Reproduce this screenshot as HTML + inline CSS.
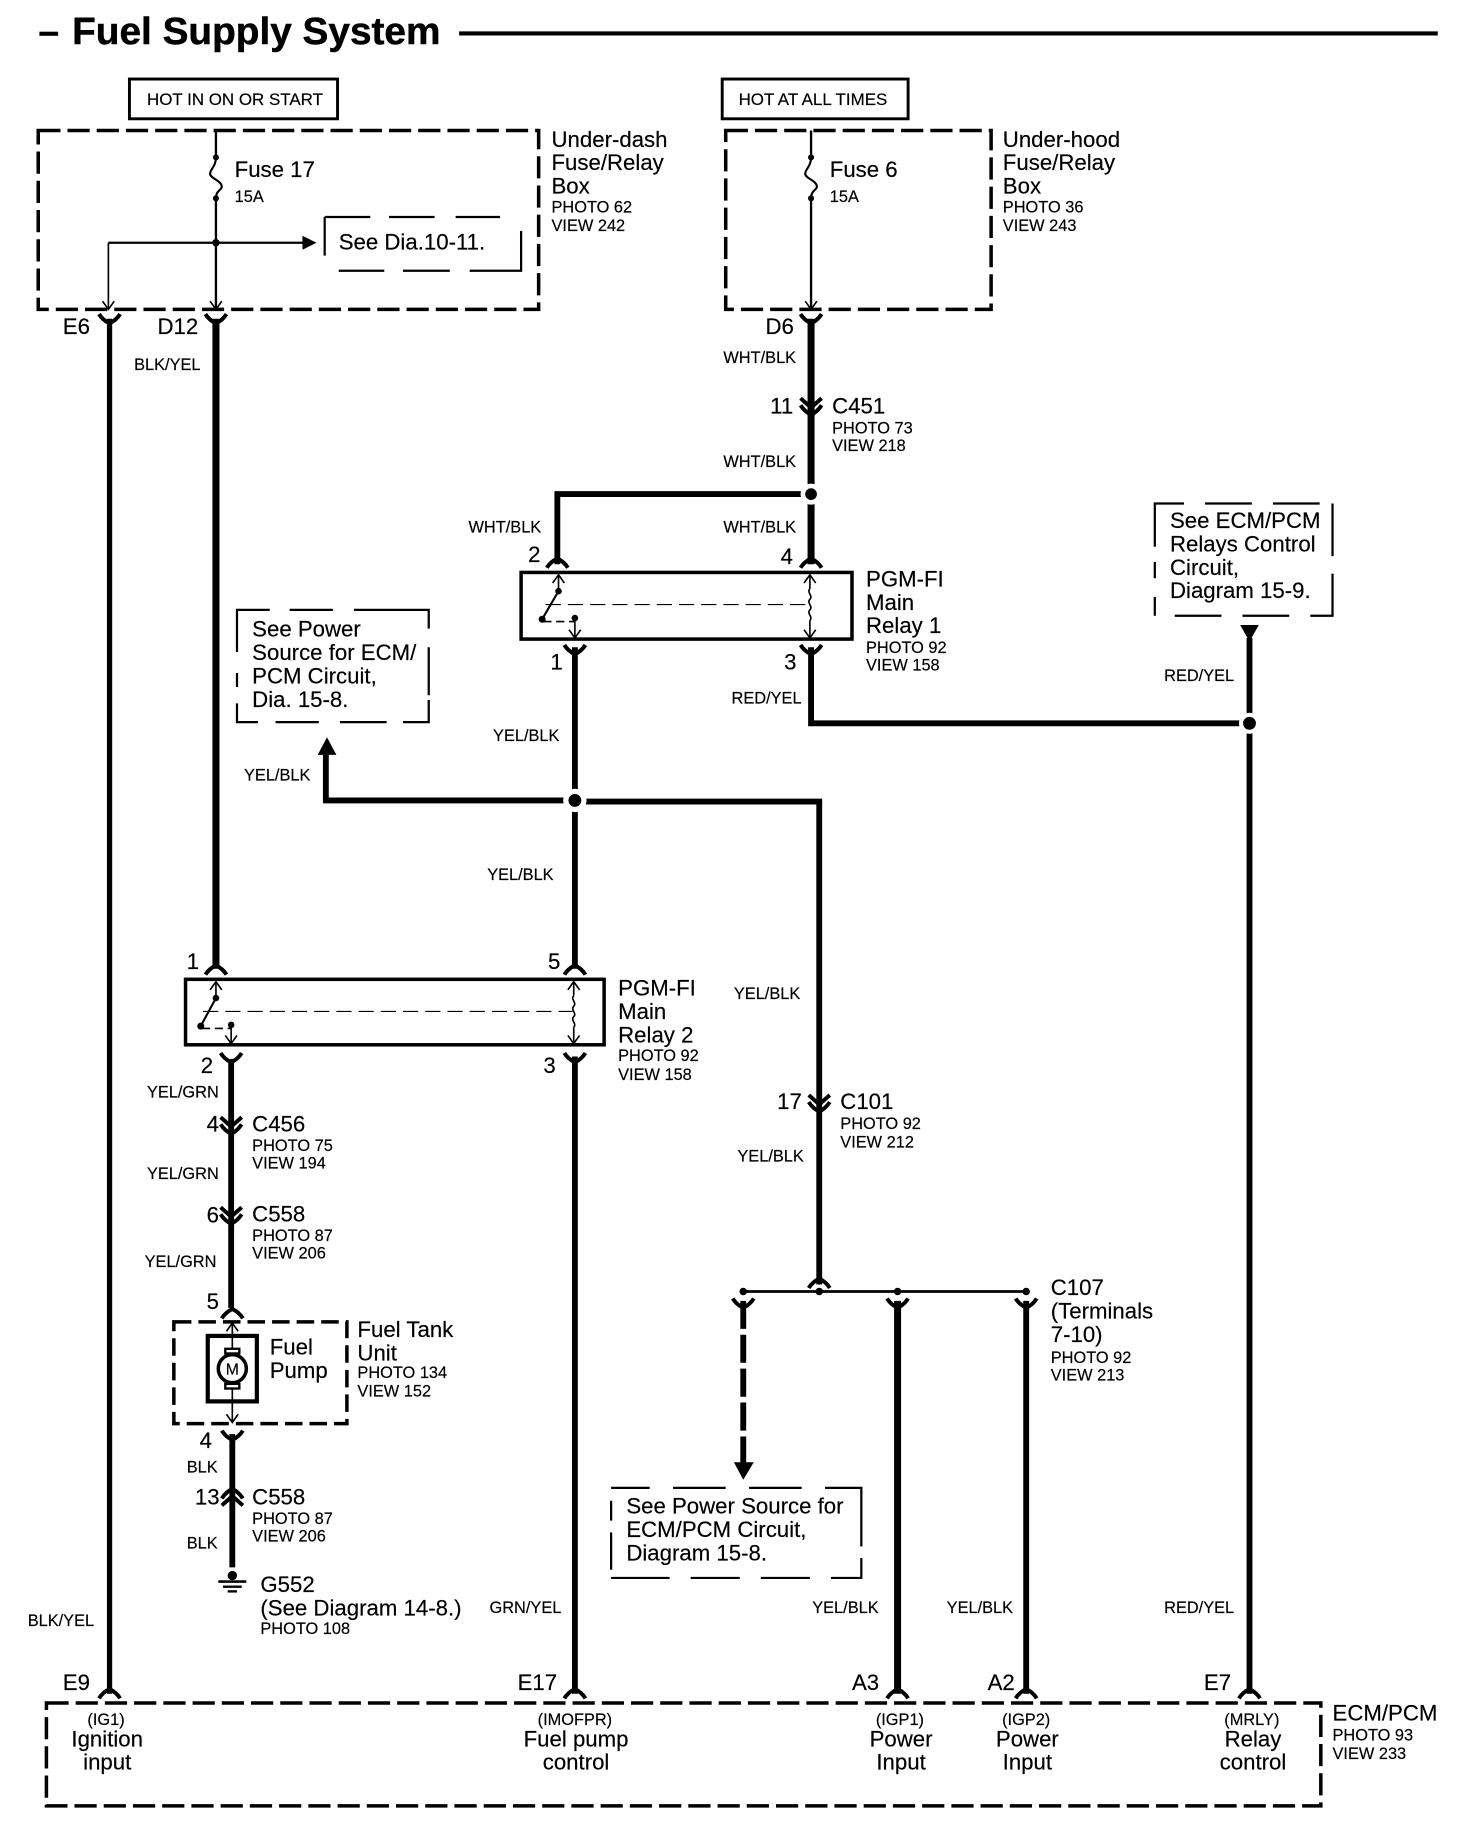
<!DOCTYPE html>
<html><head><meta charset="utf-8"><title>Fuel Supply System</title>
<style>
html,body{margin:0;padding:0;background:#fff}
svg{display:block}
text{font-family:"Liberation Sans",Arial,sans-serif;fill:#000;stroke:#000;stroke-width:.15}
.l{font-size:19px}
.s{font-size:14px}
.c{text-anchor:middle}
</style></head><body>
<svg xmlns="http://www.w3.org/2000/svg" width="1472" height="1834" viewBox="0 0 1259 1568.6">
<defs>
<path id="up" d="M-9 8Q-6 3 0 0Q6 3 9 8" fill="none" stroke="#000" stroke-width="3.4"/>
<path id="dn" d="M-9 0Q-6 5 0 8Q6 5 9 0" fill="none" stroke="#000" stroke-width="3.4"/>
<g id="cd"><path d="M-9 -7L0 1L9 -7" fill="none" stroke="#000" stroke-width="3.4"/><path d="M-9 -1Q-5 5 0 7Q5 5 9 -1" fill="none" stroke="#000" stroke-width="3.4"/></g>
<g id="cu"><path d="M-9 7L0 -1L9 7" fill="none" stroke="#000" stroke-width="3.4"/><path d="M-9 1Q-5 -5 0 -7Q5 -5 9 1" fill="none" stroke="#000" stroke-width="3.4"/></g>
<path id="oad" d="M-5 -7L0 0L5 -7" fill="none" stroke="#000" stroke-width="1.4"/>
<path id="oau" d="M-5 7L0 0L5 7" fill="none" stroke="#000" stroke-width="1.4"/>
<g id="fuse"><circle cx="0" cy="0" r="2.6"/><circle cx="0" cy="35" r="2.6"/><path d="M0 0C0 8 -5 10 -5 14C-5 18 5 20 5 25C5 28 0 28 0 35" fill="none" stroke="#000" stroke-width="1.8"/></g>
<path id="coil" d="M0 0C-3 3 3 6 0 9C-3 12 3 15 0 18C-3 21 3 24 0 27" fill="none" stroke="#000" stroke-width="1.4"/>
</defs>
<g transform="translate(.7 .6)">
<!-- title -->
<rect x="33" y="26.5" width="16" height="3.5"/>
<text x="61" y="37" font-weight="bold" font-size="32.5" textLength="315" lengthAdjust="spacingAndGlyphs" style="stroke-width:.4">Fuel Supply System</text>
<line x1="392" y1="28" x2="1229" y2="28" stroke="#000" stroke-width="3.6"/>

<!-- HOT boxes -->
<g fill="none" stroke="#000" stroke-width="2.5">
<rect x="110" y="67" width="178" height="34"/>
<rect x="617" y="67" width="159" height="34"/>
</g>
<text x="125" y="89" font-size="14.5">HOT IN ON OR START</text>
<text x="631" y="89" font-size="14.5">HOT AT ALL TIMES</text>

<!-- heavy dashed boxes -->
<g fill="none" stroke="#000" stroke-width="3" stroke-dasharray="19 6">
<rect x="32" y="111" width="428" height="153"/>
<rect x="620" y="111" width="227" height="153"/>
<rect x="148" y="1130" width="148" height="87" stroke-dasharray="15 6"/>
<rect x="39" y="1456" width="1090" height="88"/>
</g>

<!-- under-dash contents -->
<g fill="none" stroke="#000" stroke-width="2">
<path d="M184 111V134M184 169V264"/>
<path d="M184 207H260"/>
<path d="M92 207H184" />
<path d="M693 111V134M693 169V264"/>
</g>
<line x1="92" y1="207" x2="92" y2="264" stroke="#000" stroke-width="1.4"/>
<use href="#fuse" x="184" y="134"/><use href="#fuse" x="693" y="134"/>
<circle cx="184" cy="207" r="3.2"/>
<path d="M258 201L270 207L258 213Z"/>
<use href="#oad" x="92" y="264"/><use href="#oad" x="184" y="264"/><use href="#oad" x="693" y="264"/>

<!-- light dashed note boxes -->
<g fill="none" stroke="#000" stroke-width="1.9">
<path d="M277 218V185M277 185H316M332 185H371M389 185H427M289 231H328M344 231H384M401 231H445V197"/>
<path d="M202 557V521H230M247 521H284M302 521H345M345 521H366V537M366 553V594M366 598V617H344M330 617H290M272 617H235M220 617H202V601M202 587V575"/>
<path d="M987 467V430H1012M1030 430H1070M1088 430H1128M1139 430V475M1139 490V526H1120M1102 526H1062M1044 526H1004M987 526V510M987 494V480"/>
<path d="M522 1272H555M575 1272H620M640 1272H685M705 1272H736V1322M736 1332V1349H710M692 1349H650M632 1349H590M572 1349H522M522 1342V1310M522 1300V1283"/>
</g>
<text x="289" y="213" class="l">See Dia.10-11.</text>

<text class="l" x="200" y="151">Fuse 17</text><text class="s" x="200" y="172">15A</text>
<text class="l" x="709" y="151">Fuse 6</text><text class="s" x="709" y="172">15A</text>
<text class="l" x="471" y="125">Under-dash</text><text class="l" x="471" y="145">Fuse/Relay</text><text class="l" x="471" y="165">Box</text>
<text class="s" x="471" y="181">PHOTO 62</text><text class="s" x="471" y="197">VIEW 242</text>
<text class="l" x="857" y="125">Under-hood</text><text class="l" x="857" y="145">Fuse/Relay</text><text class="l" x="857" y="165">Box</text>
<text class="s" x="857" y="181">PHOTO 36</text><text class="s" x="857" y="197">VIEW 243</text>

<!-- main wires -->
<g fill="none" stroke="#000" stroke-width="5">
<path d="M93 272V1448" stroke-width="4.5"/>
<path d="M184 272V828" stroke-width="6"/>
<path d="M693 272V482" stroke-width="6"/>
<path d="M693 422H476V482"/>
<path d="M491 553V828"/>
<path d="M693 553V618H1068"/>
<path d="M1068 545V1448"/>
<path d="M491 684H278V645"/>
<path d="M491 685H700V1098"/>
<path d="M197 905V1118"/>
<path d="M491 903V1448"/>
<path d="M198 1226V1340"/>
<path d="M767 1112V1448" stroke-width="6"/>
<path d="M877 1112V1448"/>
<path d="M635 1112V1252" stroke-dasharray="24 5"/>
</g>
<circle cx="693" cy="422" r="9" fill="#fff"/><circle cx="491" cy="684" r="10" fill="#fff"/><circle cx="1068" cy="618" r="9" fill="#fff"/>
<circle cx="693" cy="422" r="5"/><circle cx="491" cy="684" r="5.5"/><circle cx="1068" cy="618" r="5.5"/>
<path d="M271 645L279 630L287 645Z"/>
<path d="M1060 534H1076L1068 548Z"/>
<path d="M627 1250H644L635 1265Z"/>

<!-- caps -->
<use href="#dn" x="93" y="268"/><use href="#dn" x="184" y="268"/><use href="#dn" x="693" y="268"/>
<use href="#up" x="476" y="477"/><use href="#up" x="693" y="477"/>
<use href="#dn" x="491" y="551"/><use href="#dn" x="693" y="551"/>
<use href="#up" x="184" y="825"/><use href="#up" x="491" y="825"/>
<use href="#dn" x="197" y="900"/><use href="#dn" x="491" y="900"/>
<use href="#up" x="198" y="1119"/><use href="#dn" x="198" y="1223"/>
<use href="#up" x="93" y="1444"/><use href="#up" x="491" y="1444"/><use href="#up" x="767" y="1444"/><use href="#up" x="877" y="1444"/><use href="#up" x="1068" y="1444"/>
<use href="#up" x="700" y="1093"/>
<use href="#dn" x="635" y="1110"/><use href="#dn" x="767" y="1110"/><use href="#dn" x="877" y="1110"/>
<use href="#cd" x="693" y="347"/><use href="#cd" x="700" y="943"/>
<use href="#cd" x="197" y="962"/><use href="#cd" x="197" y="1039"/><use href="#cu" x="198" y="1280"/>

<!-- C107 bar -->
<line x1="635" y1="1104" x2="877" y2="1104" stroke="#000" stroke-width="2.4"/>
<circle cx="635" cy="1104" r="3.2"/><circle cx="700" cy="1104" r="3.2"/><circle cx="767" cy="1104" r="3.2"/><circle cx="877" cy="1104" r="3.2"/>

<!-- relay 1 -->
<rect x="445" y="489" width="283" height="57" fill="#fff" stroke="#000" stroke-width="3"/>
<g fill="none" stroke="#000" stroke-width="1.4">
<path d="M477 491V505"/><path d="M477 505L463 529" stroke-width="1.8"/>
<path d="M464 531H491" stroke-dasharray="7 4"/><path d="M491 528V545"/>
<path d="M466 516.5H691" stroke-dasharray="13 6" stroke-width="1"/>
<path d="M692 491V503M692 530V545"/>
</g>
<use href="#oau" x="477" y="491"/><use href="#oad" x="491" y="545"/><use href="#oau" x="692" y="491"/><use href="#oad" x="692" y="545"/>
<use href="#coil" x="692" y="503"/>
<circle cx="477" cy="505" r="2.8"/><circle cx="463" cy="529" r="3"/><circle cx="491" cy="528" r="2.8"/>

<!-- relay 2 -->
<rect x="158" y="837" width="358" height="56" fill="#fff" stroke="#000" stroke-width="3"/>
<g fill="none" stroke="#000" stroke-width="1.4">
<path d="M184 839V853"/><path d="M184 853L171 877" stroke-width="1.8"/>
<path d="M172 879H197" stroke-dasharray="7 4"/><path d="M197 876V892"/>
<path d="M173 864.5H489" stroke-dasharray="13 6" stroke-width="1"/>
<path d="M490 839V851M490 878V892"/>
</g>
<use href="#oau" x="184" y="839"/><use href="#oad" x="197" y="892"/><use href="#oau" x="490" y="839"/><use href="#oad" x="490" y="892"/>
<use href="#coil" x="490" y="851"/>
<circle cx="184" cy="853" r="2.8"/><circle cx="171" cy="877" r="3"/><circle cx="197" cy="876" r="2.8"/>

<!-- fuel pump -->
<line x1="198" y1="1131" x2="198" y2="1216" stroke="#000" stroke-width="1.4"/>
<use href="#oau" x="198" y="1131"/><use href="#oad" x="198" y="1216"/>
<rect x="177" y="1142" width="42" height="56" fill="#fff" stroke="#000" stroke-width="3.6"/>
<circle cx="198" cy="1170" r="12" fill="#fff" stroke="#000" stroke-width="3"/>
<rect x="192" y="1153" width="12" height="4" fill="#fff" stroke="#000" stroke-width="2"/>
<rect x="192" y="1183" width="12" height="4" fill="#fff" stroke="#000" stroke-width="2"/>
<line x1="198" y1="1142" x2="198" y2="1153" stroke="#000" stroke-width="1.4"/>
<line x1="198" y1="1187" x2="198" y2="1198" stroke="#000" stroke-width="1.4"/>
<text x="198" y="1175" class="c" font-size="13.5">M</text>

<!-- ground -->
<circle cx="198" cy="1347" r="4"/>
<rect x="186" y="1351" width="24" height="2.2"/><rect x="190" y="1355.5" width="16" height="2"/><rect x="194" y="1359.5" width="8" height="2"/>

<!-- labels -->
<g class="l">
<text class="l" x="53" y="285">E6</text><text class="l" x="134" y="285">D12</text><text class="l" x="654" y="285">D6</text>
<text class="l" x="658" y="353">11</text><text class="l" x="711" y="353">C451</text>
<text class="l" x="451" y="480">2</text><text class="l" x="667" y="482">4</text><text class="l" x="470" y="572">1</text><text class="l" x="670" y="572">3</text>
<text class="l" x="740" y="501">PGM-FI</text><text class="l" x="740" y="521">Main</text><text class="l" x="740" y="541">Relay 1</text>
<text class="l" x="1000" y="451">See ECM/PCM</text><text class="l" x="1000" y="471">Relays Control</text><text class="l" x="1000" y="491">Circuit,</text><text class="l" x="1000" y="511">Diagram 15-9.</text>
<text class="l" x="215" y="544">See Power</text><text class="l" x="215" y="564">Source for ECM/</text><text class="l" x="215" y="584">PCM Circuit,</text><text class="l" x="215" y="604">Dia. 15-8.</text>
<text class="l" x="159" y="828">1</text><text class="l" x="468" y="828">5</text><text class="l" x="171" y="917">2</text><text class="l" x="464" y="917">3</text>
<text class="l" x="528" y="851">PGM-FI</text><text class="l" x="528" y="871">Main</text><text class="l" x="528" y="891">Relay 2</text>
<text class="l" x="664" y="948">17</text><text class="l" x="718" y="948">C101</text>
<text class="l" x="176" y="967">4</text><text class="l" x="215" y="967">C456</text>
<text class="l" x="176" y="1045">6</text><text class="l" x="215" y="1044">C558</text>
<text class="l" x="176" y="1119">5</text>
<text class="l" x="305" y="1143">Fuel Tank</text><text class="l" x="305" y="1163">Unit</text>
<text class="l" x="230" y="1158">Fuel</text><text class="l" x="230" y="1178">Pump</text>
<text class="l" x="170" y="1238">4</text><text class="l" x="166" y="1286">13</text><text class="l" x="215" y="1286">C558</text>
<text class="l" x="222" y="1361">G552</text><text class="l" x="222" y="1381">(See Diagram 14-8.)</text>
<text class="l" x="898" y="1107">C107</text><text class="l" x="898" y="1127">(Terminals</text><text class="l" x="898" y="1147">7-10)</text>
<text class="l" x="535" y="1294">See Power Source for</text><text class="l" x="535" y="1314">ECM/PCM Circuit,</text><text class="l" x="535" y="1334">Diagram 15-8.</text>
<text class="l" x="53" y="1445">E9</text><text class="l" x="442" y="1445">E17</text><text class="l" x="728" y="1445">A3</text><text class="l" x="844" y="1445">A2</text><text class="l" x="1029" y="1445">E7</text>
<text class="l" x="1139" y="1471">ECM/PCM</text>
<text class="l c" x="91" y="1493">Ignition</text><text class="l c" x="91" y="1513">input</text>
<text class="l c" x="492" y="1493">Fuel pump</text><text class="l c" x="492" y="1513">control</text>
<text class="l c" x="770" y="1493">Power</text><text class="l c" x="770" y="1513">Input</text>
<text class="l c" x="878" y="1493">Power</text><text class="l c" x="878" y="1513">Input</text>
<text class="l c" x="1071" y="1493">Relay</text><text class="l c" x="1071" y="1513">control</text>
</g>

<text class="s" x="711" y="370">PHOTO 73</text><text class="s" x="711" y="385">VIEW 218</text>
<text class="s" x="740" y="558">PHOTO 92</text><text class="s" x="740" y="573">VIEW 158</text>
<text class="s" x="528" y="907">PHOTO 92</text><text class="s" x="528" y="923">VIEW 158</text>
<text class="s" x="718" y="965">PHOTO 92</text><text class="s" x="718" y="981">VIEW 212</text>
<text class="s" x="215" y="984">PHOTO 75</text><text class="s" x="215" y="999">VIEW 194</text>
<text class="s" x="215" y="1061">PHOTO 87</text><text class="s" x="215" y="1076">VIEW 206</text>
<text class="s" x="305" y="1178">PHOTO 134</text><text class="s" x="305" y="1194">VIEW 152</text>
<text class="s" x="215" y="1303">PHOTO 87</text><text class="s" x="215" y="1318">VIEW 206</text>
<text class="s" x="222" y="1397">PHOTO 108</text>
<text class="s" x="898" y="1165">PHOTO 92</text><text class="s" x="898" y="1180">VIEW 213</text>
<text class="s" x="1139" y="1488">PHOTO 93</text><text class="s" x="1139" y="1504">VIEW 233</text>
<text class="s c" x="90" y="1475">(IG1)</text><text class="s c" x="491" y="1475">(IMOFPR)</text><text class="s c" x="769" y="1475">(IGP1)</text><text class="s c" x="877" y="1475">(IGP2)</text><text class="s c" x="1070" y="1475">(MRLY)</text>

<!-- wire colours -->
<text class="s" x="114" y="316">BLK/YEL</text><text class="s" x="23" y="1390">BLK/YEL</text>
<text class="s" x="618" y="310">WHT/BLK</text><text class="s" x="618" y="399">WHT/BLK</text><text class="s" x="618" y="455">WHT/BLK</text><text class="s" x="400" y="455">WHT/BLK</text>
<text class="s" x="625" y="601">RED/YEL</text><text class="s" x="995" y="582">RED/YEL</text><text class="s" x="995" y="1379">RED/YEL</text>
<text class="s" x="421" y="633">YEL/BLK</text><text class="s" x="208" y="667">YEL/BLK</text><text class="s" x="416" y="752">YEL/BLK</text>
<text class="s" x="627" y="854">YEL/BLK</text><text class="s" x="630" y="993">YEL/BLK</text>
<text class="s" x="694" y="1379">YEL/BLK</text><text class="s" x="809" y="1379">YEL/BLK</text>
<text class="s" x="125" y="938">YEL/GRN</text><text class="s" x="125" y="1008">YEL/GRN</text><text class="s" x="123" y="1083">YEL/GRN</text>
<text class="s" x="159" y="1259">BLK</text><text class="s" x="159" y="1324">BLK</text>
<text class="s" x="418" y="1379">GRN/YEL</text>
</g>
</svg>
</body></html>
